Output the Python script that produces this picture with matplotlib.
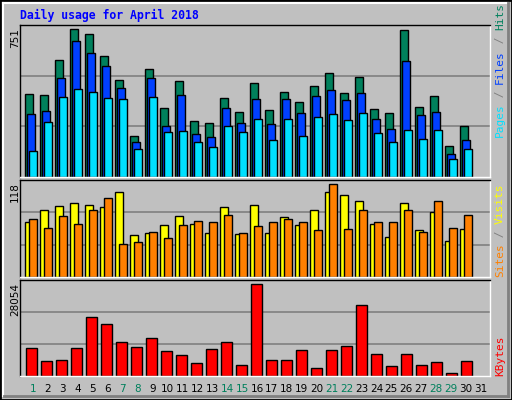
import matplotlib
matplotlib.use("Agg")
import matplotlib.pyplot as plt
from matplotlib.patches import Rectangle
from matplotlib.lines import Line2D
import numpy as np

days = list(range(1, 32))
weekend = [1, 7, 8, 14, 15, 21, 22, 28, 29]
hits = [408, 403, 576, 729, 705, 596, 477, 205, 536, 343, 472, 279, 269, 388, 323,
        462, 333, 422, 373, 452, 516, 417, 492, 338, 318, 724, 348, 398, 155, 254]
files = [309, 328, 487, 670, 611, 546, 442, 175, 487, 254, 403, 210, 200, 343, 269,
         383, 264, 383, 318, 398, 432, 378, 413, 289, 239, 571, 304, 323, 116, 185]
pages = [130, 274, 393, 437, 422, 388, 383, 140, 393, 224, 229, 175, 150, 254, 224,
         289, 185, 289, 205, 294, 309, 284, 318, 215, 175, 234, 190, 234, 91, 140]
visits = [67, 81, 86, 90, 87, 85, 104, 51, 53, 63, 74, 65, 53, 85, 52,
          87, 54, 73, 63, 82, 104, 100, 92, 65, 49, 90, 57, 79, 44, 58]
sites = [70, 60, 74, 65, 82, 96, 40, 43, 55, 48, 63, 68, 67, 75, 54,
         62, 67, 70, 67, 57, 113, 59, 81, 67, 67, 81, 55, 92, 60, 75]
kbytes = [8044, 4513, 4807, 8044, 17168, 15107, 9810, 8339, 10987, 7161, 6278, 3924,
          7750, 9810, 3335, 26879, 4807, 4807, 7456, 2453, 7456, 8633, 20699, 6573,
          3041, 6573, 3335, 4218, 981, 4513]
max_hits, max_visits, max_kb = 751, 118, 28054

W, H = 512, 400
fig = plt.figure(figsize=(W/100, H/100), dpi=100, facecolor="#C0C0C0")

def fx(x): return x / W
def fy(y): return 1 - y / H

fig.add_artist(Rectangle((0, 0), 1, 1, transform=fig.transFigure, fill=False, ec="black", lw=2))
fig.add_artist(Line2D([fx(3), fx(508)], [fy(3), fy(3)], transform=fig.transFigure, color="white", lw=1.5))
fig.add_artist(Line2D([fx(3), fx(3)], [fy(3), fy(396)], transform=fig.transFigure, color="white", lw=1.5))
fig.add_artist(Line2D([fx(4), fx(508)], [fy(396), fy(396)], transform=fig.transFigure, color="#808080", lw=2))
fig.add_artist(Line2D([fx(508), fx(508)], [fy(3), fy(396)], transform=fig.transFigure, color="#808080", lw=2))

fig.text(fx(20), fy(15), "Daily usage for April 2018", color="#0000FF",
         family="DejaVu Sans Mono", weight="bold", fontsize=8.3, va="center", ha="left")

x0 = 1 - 11/15
x1 = 1 + 459/15
def make_ax(ytop, ybot, ymax):
    ax = fig.add_axes([fx(20), fy(ybot), fx(490) - fx(20), (ybot - ytop) / H])
    ax.set_facecolor("#C0C0C0")
    ax.set_xlim(x0, x1)
    ax.set_ylim(0, ymax * 1.0)
    for v in (ymax/3, 2*ymax/3):
        ax.axhline(v, color="#808080", lw=1.2, zorder=0)
    ax.set_xticks([]); ax.set_yticks([])
    for s in ax.spines.values():
        s.set_color("black"); s.set_linewidth(1)
    ax.spines["right"].set_color("white"); ax.spines["bottom"].set_color("white")
    return ax

d = np.array(days[:30])
ax1 = make_ax(25, 177, max_hits)
kw = dict(edgecolor="black", linewidth=1)
ax1.bar(d - 0.133, hits, width=0.5, color="#00805C", **kw)
ax1.bar(d, files, width=0.5, color="#0040FF", **kw)
ax1.bar(d + 0.133, pages, width=0.5, color="#00E0FF", **kw)

ax2 = make_ax(180, 277, max_visits)
ax2.bar(d - 0.133, visits, width=0.53, color="#FFFF00", **kw)
ax2.bar(d + 0.133, sites, width=0.53, color="#FF8000", **kw)

ax3 = make_ax(280, 376, max_kb)
ax3.bar(d + 0.03, kbytes, width=0.73, color="#FF0000", **kw)

for day in days:
    fig.text(fx(33 + (day - 1) * 14.93), fy(389), str(day), ha="center", va="center",
             fontsize=7.5, color="#00805C" if day in weekend else "black")

for label, ytop in ((str(max_hits), 28), (str(max_visits), 182), (str(max_kb), 283)):
    fig.text(fx(15), fy(ytop), label, rotation=90, ha="center", va="top", fontsize=7.5)

LFS = 8.0
step = 0.602 * LFS * 100 / 72
mono = dict(family="DejaVu Sans Mono", rotation=90, ha="center", va="center", fontsize=LFS)
def legend(parts, ybottom):
    y = ybottom
    for txt, col in parts:
        n = len(txt)
        fig.text(fx(500), fy(y - n * step / 2), txt, color=col, **mono)
        y -= n * step
legend([("Pages", "#00E0FF"), (" / ", "#808080"), ("Files", "#0040FF"),
        (" / ", "#808080"), ("Hits", "#00805C")], 137)
legend([("Sites", "#FF8000"), (" / ", "#808080"), ("Visits", "#FFFF00")], 277)
legend([("KBytes", "#FF0000")], 376)

fig.savefig("out.png", dpi=100, facecolor="#C0C0C0")
